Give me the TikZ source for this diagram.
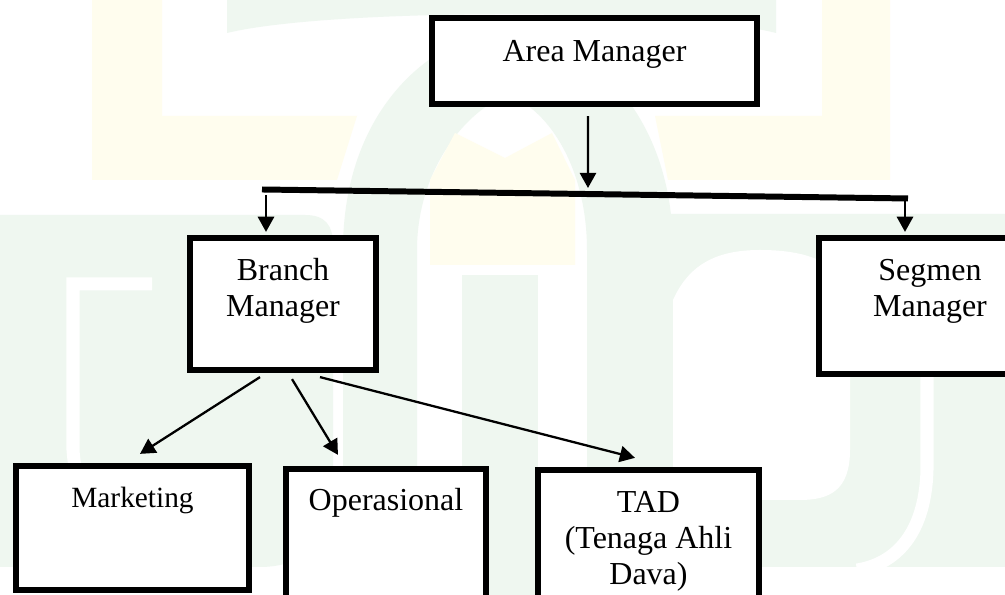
\documentclass[tikz,border=0pt]{standalone}
\usepackage{fontspec}
\setmainfont{Liberation Serif}
\usetikzlibrary{arrows.meta}

\definecolor{hijaumuda}{RGB}{239,247,240}
\definecolor{kuningmuda}{RGB}{255,253,238}

\tikzset{
  kotak/.style={draw, fill=white, line width=1.75pt, inner sep=0pt},
  teks/.style={font=\fontsize{9.1}{10.25}\selectfont, align=center, anchor=base, inner sep=0pt},
  panah/.style={-{Triangle[length=4.3pt,width=4.6pt]}, line width=0.65pt},
  garis/.style={line width=1.7pt}
}

\begin{document}
\begin{tikzpicture}[x=0.01cm,y=-0.01cm]

    % frame
    \useasboundingbox (0,0) rectangle (1005,595);
    \clip (0,0) rectangle (1005,595);
    \fill[white] (0,0) rectangle (1005,595);

    % background logo
    \fill[kuningmuda] (92,0) -- (162,0) -- (162,116) -- (357,116) -- (337,180) -- (92,180) -- cycle;
    \fill[kuningmuda] (822,0) -- (890,0) -- (890,180) -- (668,180) -- (655,116) -- (822,116) -- cycle;
    \fill[hijaumuda] (227,0) -- (227,33) .. controls (330,8) and (680,8) .. (776,33) -- (776,0) -- cycle;
    \fill[hijaumuda] (0,215) -- (305,215) .. controls (325,215) and (333,225) .. (333,245)
        -- (333,500) .. controls (333,545) and (300,567) .. (260,567) -- (0,567) -- cycle;
    \draw[white,line width=0.13cm] (152,284) -- (73,284) -- (73,450) .. controls (78,520) and (120,560) .. (167,575);
    \fill[hijaumuda] (343,567) -- (343,250) .. controls (343,120) and (420,40) .. (508,28)
        .. controls (596,40) and (673,120) .. (673,250) -- (673,567) -- (587,567) -- (587,250)
        .. controls (587,170) and (550,110) .. (508,95) .. controls (466,110) and (417,170) .. (417,250)
        -- (417,567) -- cycle;
    \fill[kuningmuda] (455,133) -- (505,158) -- (552,133) -- (575,180) -- (575,265) -- (430,265) -- (430,180) -- cycle;
    \fill[hijaumuda] (462,275) rectangle (538,595);
    \fill[hijaumuda] (660,214) -- (1005,214) -- (1005,567) -- (640,567) -- (640,240) -- cycle;
    \fill[white] (673,300) .. controls (690,262) and (720,250) .. (760,250) .. controls (820,250) and (850,270) .. (850,310)
        -- (850,450) .. controls (850,490) and (830,500) .. (800,500) -- (673,500) -- cycle;
    \draw[white,line width=0.13cm] (927,240) -- (927,470) .. controls (925,540) and (890,565) .. (857,570);

    % define coordinates
    \coordinate (bar-l) at (262,189.5) ;
    \coordinate (bar-r) at (908,198.5) ;
    \coordinate (bar-m) at (588,188) ;
    \coordinate (kiri) at (266,195) ;
    \coordinate (kanan) at (905,200) ;

    % boxes
    \node[kotak, minimum width=3.25cm, minimum height=0.86cm] (area) at (594.5,61) {};
    \node[kotak, minimum width=1.86cm, minimum height=1.32cm] (branch) at (283,304) {};
    \node[kotak, minimum width=2.22cm, minimum height=1.36cm] (segmen) at (930,306) {};
    \node[kotak, minimum width=2.33cm, minimum height=1.24cm] (market) at (132.5,528) {};
    \node[kotak, minimum width=2.00cm, minimum height=1.71cm] (opr) at (386,554.5) {};
    \node[kotak, minimum width=2.21cm, minimum height=1.70cm] (tad) at (648.5,555) {};

    % labels (base = last line)
    \node[teks] (area-t) at (594.5,62) {Area Manager};
    \node[teks] (branch-t) at (283,317) {Branch\\Manager};
    \node[teks] (segmen-t) at (930,317) {Segmen\\Manager};
    \node[teks, font=\fontsize{8.35}{10.25}\selectfont] (market-t) at (132.5,508) {Marketing};
    \node[teks] (opr-t) at (386,511) {Operasional};
    \node[teks] (tad-t) at (648.5,585) {TAD\\(Tenaga Ahli\\Dava)};

    % bar
    \draw[garis] (bar-l) -- (bar-r) ;

    % arrows
    \draw[panah] ([xshift=-0.065cm,yshift=-0.09cm]area.south) -- (bar-m) ;
    \draw[panah, shorten >=0.03cm] (kiri) -- (kiri |- branch.north) ;
    \draw[panah, shorten >=0.03cm] (kanan) -- (kanan |- segmen.north) ;
    \draw[panah] ([xshift=-0.23cm,yshift=-0.04cm]branch.south) -- ([xshift=0.075cm,yshift=0.09cm]market.north) ;
    \draw[panah] ([xshift=0.09cm,yshift=-0.06cm]branch.south) -- ([xshift=-0.48cm,yshift=0.11cm]opr.north) ;
    \draw[panah] ([xshift=0.37cm,yshift=-0.04cm]branch.south) -- ([xshift=-0.135cm,yshift=0.09cm]tad.north) ;

\end{tikzpicture}
\end{document}
